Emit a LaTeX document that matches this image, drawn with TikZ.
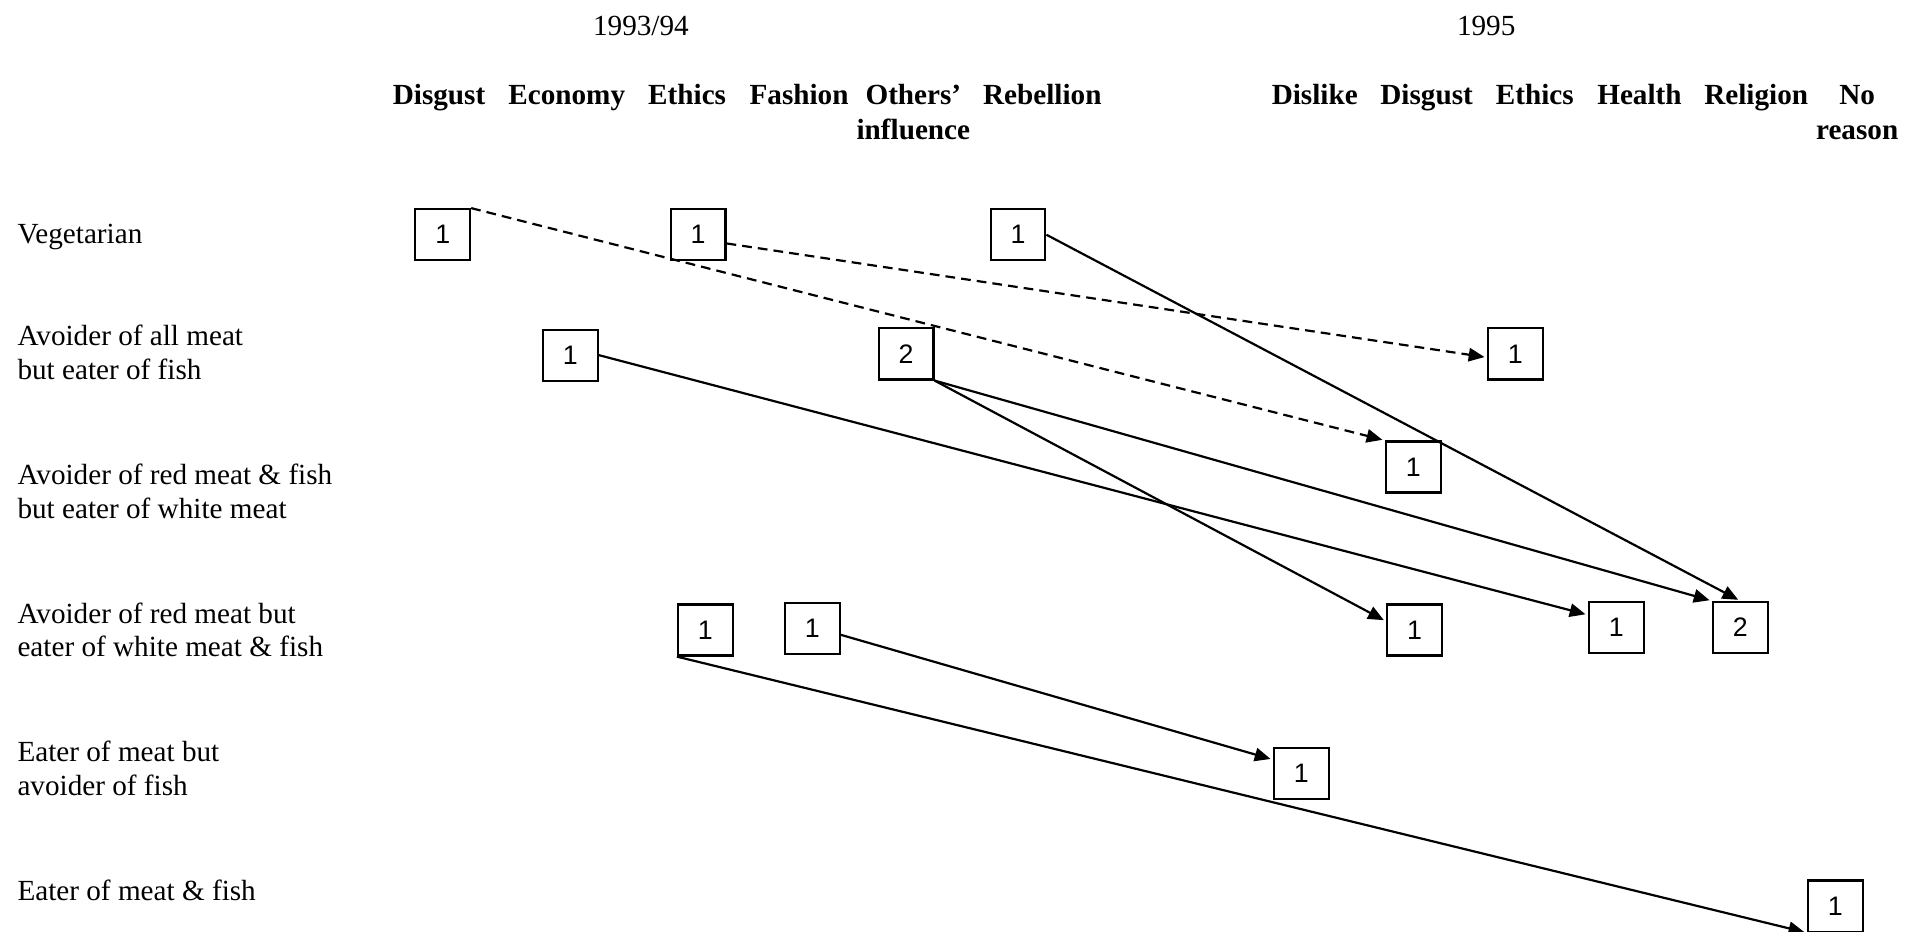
\documentclass[tikz,border=0pt]{standalone}
\usepackage{fontspec}
\setmainfont{Liberation Serif}
\newfontfamily\boxfont{Liberation Sans}
\usetikzlibrary{arrows.meta}
\begin{document}
\begin{tikzpicture}[x=0.5pt,y=-0.5pt,
  every node/.style={inner sep=0pt},
  yr/.style={font=\fontsize{12}{14}\selectfont, anchor=base},
  hd/.style={font=\fontsize{12}{14.5}\selectfont\bfseries, anchor=base, align=center},
  lbl/.style={font=\fontsize{12}{13.8}\selectfont, anchor=base west, align=left},
  cnt/.style={draw, line width=0.9pt, minimum width=22.5pt, minimum height=21pt, font=\boxfont\fontsize{11}{12}\selectfont},
  link/.style={line width=0.9pt, -{Triangle[length=6.5pt,width=5.5pt]}, shorten >=1pt},
  dlink/.style={link, dash pattern=on 4pt off 2.5pt}]
\useasboundingbox (0,0) rectangle (1568,766);
% years
\node[yr] (y1) at (527,29) {1993/94};
\node[yr] (y2) at (1222,29) {1995};
% headers 1993/94 (multi-line nodes are placed by their last baseline)
\node[hd] (h1) at (361,86) {Disgust};
\node[hd] (h2) at (466,86) {Economy};
\node[hd] (h3) at (565,86) {Ethics};
\node[hd] (h4) at (657,86) {Fashion};
\node[hd] (h5) at (751,115) {Others'\\influence};
\node[hd] (h6) at (857,86) {Rebellion};
% headers 1995
\node[hd] (k1) at (1081,86) {Dislike};
\node[hd] (k2) at (1173,86) {Disgust};
\node[hd] (k3) at (1262,86) {Ethics};
\node[hd] (k4) at (1348,86) {Health};
\node[hd] (k5) at (1444,86) {Religion};
\node[hd] (k6) at (1527,115) {No\\reason};
% row labels
\node[lbl] (r1) at (14,200) {Vegetarian};
\node[lbl] (r2) at (14,312) {Avoider of all meat\\but eater of fish};
\node[lbl] (r3) at (14,426) {Avoider of red meat \& fish\\but eater of white meat};
\node[lbl] (r4) at (14,540) {Avoider of red meat but\\eater of white meat \& fish};
\node[lbl] (r5) at (14,654) {Eater of meat but\\avoider of fish};
\node[lbl] (r6) at (14,740) {Eater of meat \& fish};
% boxes
\node[cnt] (A) at (364,193) {1};
\node[cnt] (B) at (574,193) {1};
\node[cnt] (C) at (837,193) {1};
\node[cnt] (D) at (469,292) {1};
\node[cnt] (E) at (745,291) {2};
\node[cnt] (F) at (1246,291) {1};
\node[cnt] (G) at (1162,384) {1};
\node[cnt] (H) at (580,518) {1};
\node[cnt] (I) at (668,517) {1};
\node[cnt] (J) at (1163,518) {1};
\node[cnt] (K) at (1329,516) {1};
\node[cnt] (L) at (1431,516) {2};
\node[cnt] (M) at (1070,636) {1};
\node[cnt] (N) at (1509,745) {1};
% connectors
\draw[dlink] (A.north east) -- (G.north west);
\draw[dlink] (B.-17) -- (F.187);
\draw[link] (C.east) -- (L.north);
\draw[link] (D.east) -- (K.156);
\draw[link] (E.south east) -- (J.163);
\draw[link] (E.south east) -- (L.north west);
\draw[link] (I.-12) -- (M.154);
\draw[link] (H.south west) -- (N.south west);
\end{tikzpicture}
\end{document}
